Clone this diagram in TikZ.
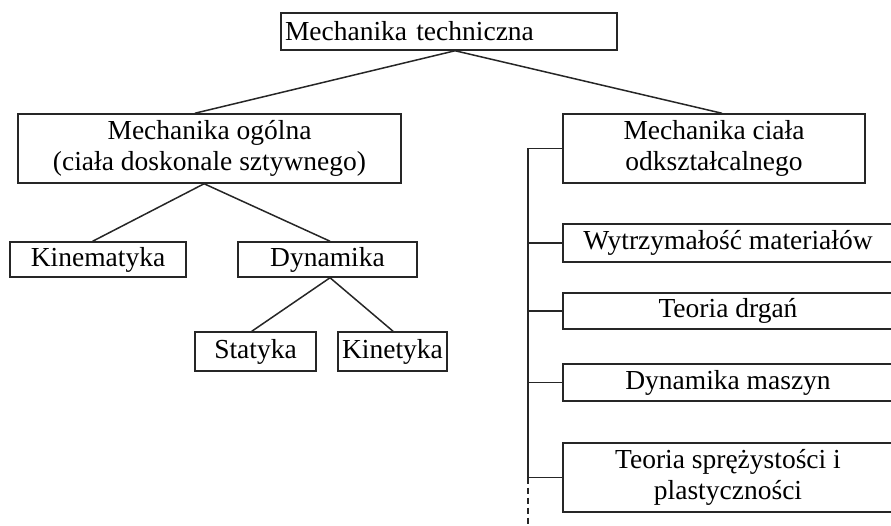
\documentclass[tikz,border=0pt]{standalone}
\usepackage{fontspec}
\setmainfont{Liberation Serif}
\usetikzlibrary{calc}
\begin{document}
\begin{tikzpicture}[x=1pt,y=-1pt,
  box/.style={draw=black!85, line width=1.5pt, inner sep=0pt, align=center,
    font=\fontsize{27.5}{31.5}\selectfont},
  conn/.style={draw=black!85, line width=1.5pt},
  dashconn/.style={draw=black!85, line width=1.5pt, dash pattern=on 6pt off 4pt}]
\useasboundingbox (0,0) rectangle (891,526);
\clip (0,0) rectangle (891,526);
% left tree
\node[box, text width=328pt, align=left, inner xsep=4pt, minimum height=37pt] (top) at (449,31.5) {Mechanika techniczna};
\node[box, minimum width=383pt, minimum height=69pt] (mo) at (209.5,148.5) {Mechanika ogólna\\(ciała doskonale sztywnego)};
\node[box, minimum width=176pt, minimum height=35pt] (kin) at (98,259.5) {Kinematyka};
\node[box, minimum width=179pt, minimum height=35pt] (dyn) at (327.5,259.5) {Dynamika};
\node[box, minimum width=121pt, minimum height=39pt] (stat) at (255.5,351.5) {Statyka};
\node[box, minimum width=109pt, minimum height=39pt] (kinet) at (392.5,351.5) {Kinetyka};
% right tree
\node[box, minimum width=302pt, minimum height=69pt] (mc) at (714,148.5) {Mechanika ciała\\odkształcalnego};
\node[box, minimum width=330pt, minimum height=38pt] (wm) at (728,243) {Wytrzymałość materiałów};
\node[box, minimum width=330pt, minimum height=36pt] (td) at (728,311) {Teoria drgań};
\node[box, minimum width=330pt, minimum height=37pt] (dm) at (728,382.5) {Dynamika maszyn};
\node[box, minimum width=330pt, minimum height=69pt] (ts) at (728,477.5) {Teoria sprężystości i\\plastyczności};
% connectors left
\draw[conn] ($(top.south west)!0.518!(top.south east)$) -- ($(mo.north west)!0.462!(mo.north east)$);
\draw[conn] ($(top.south west)!0.518!(top.south east)$) -- ($(mc.north west)!0.526!(mc.north east)$);
\draw[conn] ($(mo.south west)!0.486!(mo.south east)$) -- ($(kin.north west)!0.47!(kin.north east)$);
\draw[conn] ($(mo.south west)!0.486!(mo.south east)$) -- ($(dyn.north west)!0.514!(dyn.north east)$);
\draw[conn] ($(dyn.south west)!0.514!(dyn.south east)$) -- ($(stat.north west)!0.47!(stat.north east)$);
\draw[conn] ($(dyn.south west)!0.514!(dyn.south east)$) -- ($(kinet.north west)!0.505!(kinet.north east)$);
% trunk
\coordinate (trunkx) at (528,0);
\coordinate (dashend) at (528,525);
\draw[conn] (mc.west -| trunkx) -- (ts.west -| trunkx);
\draw[dashconn] (ts.west -| trunkx) -- (dashend);
\foreach \n in {mc,wm,td,dm,ts}
  \draw[conn] (\n.west -| trunkx) -- (\n.west);
\end{tikzpicture}
\end{document}
